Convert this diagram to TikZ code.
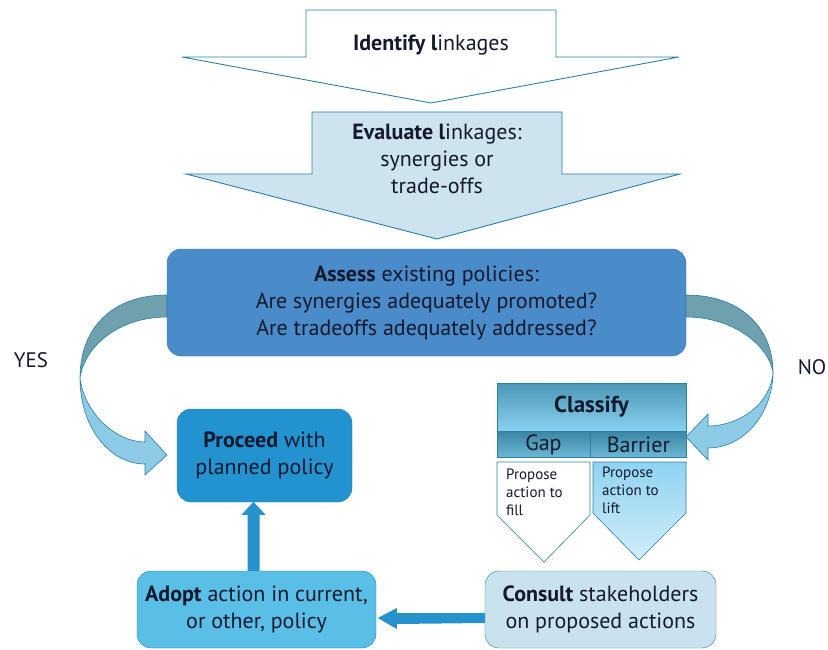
\documentclass[tikz,border=0pt]{standalone}
\usepackage{fontspec}
\setmainfont{PT Sans}
\usetikzlibrary{positioning,calc}

\definecolor{edgeblue}{HTML}{2B7FA7}
\definecolor{inkdark}{HTML}{14192E}
\definecolor{evalfill}{HTML}{CDE3EE}
\definecolor{assessfill}{HTML}{4A8BC9}
\definecolor{proceedfill}{HTML}{2393D0}
\definecolor{adoptfill}{HTML}{5ABFE7}
\definecolor{consultfill}{HTML}{C8E3EE}
\definecolor{bandback}{HTML}{6FA0AE}
\definecolor{bandfront}{HTML}{8DCAE5}
\definecolor{linkblue}{HTML}{2592CC}
\definecolor{headtop}{HTML}{4B97B5}
\definecolor{headbot}{HTML}{88D2EF}
\definecolor{rowtop}{HTML}{3A86A4}
\definecolor{rowbot}{HTML}{6CB9D6}
\definecolor{lifttop}{HTML}{8FD3F0}
\definecolor{liftbot}{HTML}{D2EEFA}

\begin{document}
\begin{tikzpicture}[
    x=1pt, y=-1pt,
    box/.style={
        draw=edgeblue, rounded corners=14pt,
        align=center, text=inkdark, inner sep=0pt,
        font=\fontsize{22}{27}\selectfont
    },
    cell/.style={
        draw=edgeblue, inner sep=0pt, text=inkdark
    },
    bigarrow/.style={draw=edgeblue, line width=0.9pt, line join=miter},
    band/.style={draw=edgeblue, line width=0.6pt},
    small/.style={
        align=left, inner sep=0pt, text=inkdark,
        font=\fontsize{15}{18}\selectfont
    },
    answer/.style={text=inkdark, font=\fontsize{21}{24}\selectfont}
    ]
    \useasboundingbox (0,0) rectangle (828,650);

    % Top arrows
    \draw[bigarrow, fill=white] (306,10) -- (556,10) -- (556,57) -- (679,57)
        -- (431,103) -- (182,57) -- (306,57) -- cycle;
    \node[box, draw=none] (identify) at (431,45) {\textbf{Identify l}inkages};

    \draw[bigarrow, fill=evalfill] (312,112) -- (562,112) -- (562,174) -- (680,174)
        -- (437,239) -- (186,174) -- (312,174) -- cycle;
    \node[box, draw=none] (evaluate) at (437,159)
        {\textbf{Evaluate l}inkages:\\synergies or\\trade-offs};

    % Boxes
    \node[box, fill=assessfill, minimum width=519, minimum height=107] (assess) at (426.5,302.5)
        {\textbf{Assess} existing policies:\\Are synergies adequately promoted?\\Are tradeoffs adequately addressed?};
    \node[box, fill=proceedfill, minimum width=175, minimum height=93] (proceed) at (264.5,455.5)
        {\textbf{Proceed} with\\planned policy};
    \node[box, fill=adoptfill, minimum width=239, minimum height=77] (adopt) at (256.5,609.5)
        {\textbf{Adopt} action in current,\\or other, policy};
    \node[box, fill=consultfill, minimum width=231, minimum height=77] (consult) at (600.5,609.5)
        {\textbf{Consult} stakeholders\\on proposed actions};

    % Classify table
    \node[cell, top color=headtop, bottom color=headbot, minimum width=189, minimum height=48,
        font=\fontsize{23}{26}\selectfont\bfseries] (classify) at (591.5,407) {Classify};
    \node[cell, top color=rowtop, bottom color=rowbot, minimum width=93, minimum height=26,
        font=\fontsize{22}{24}\selectfont, below right=0 and 0 of classify.south west] (gap) {Gap};
    \node[cell, top color=rowtop, bottom color=rowbot, minimum width=96, minimum height=26,
        font=\fontsize{22}{24}\selectfont, right=0 of gap] (barrier) {Barrier};

    \draw[edgeblue, line width=0.6pt, fill=white] (497,462) -- (590,462) -- (590,515)
        -- (544,562) -- (497,515) -- cycle;
    \draw[edgeblue, line width=0.6pt, top color=lifttop, bottom color=liftbot]
        (593,462) -- (686,462) -- (686,513) -- (639,560) -- (593,513) -- cycle;
    \node[small, anchor=north west] (fill) at (506,469) {Propose\\action to\\fill};
    \node[small, anchor=north west] (lift) at (602,467) {Propose\\action to\\lift};

    % Curved arrows
    \draw[band, fill=bandback] (167,295) .. controls (110,295) and (80,330) .. (80,378)
        .. controls (85,345) and (120,317) .. (167,317) -- cycle;
    \draw[band, fill=bandfront] (80,378) .. controls (80,428) and (110,464) .. (145,464)
        -- (145,475) -- (167,455) -- (145,431) -- (145,442)
        .. controls (115,442) and (84,412) .. (80,378) -- cycle;

    \draw[band, fill=bandback] (686,295) .. controls (743,295) and (773,330) .. (773,372)
        .. controls (768,345) and (733,317) .. (686,317) -- cycle;
    \draw[band, fill=bandfront] (773,372) .. controls (773,412) and (745,448) .. (708,448)
        -- (708,460) -- (686,437) -- (708,414) -- (708,426)
        .. controls (738,426) and (771,405) .. (773,372) -- cycle;

    \node[answer] (yes) at (31,360) {YES};
    \node[answer] (no) at (812,367) {NO};

    % Straight arrows
    \fill[linkblue] ($(consult.west)+(0,3.5)$) -- ++(-88,0) -- ++(0,-5) -- ++(-19,10)
        -- ++(19,11) -- ++(0,-5) -- ($(consult.west)+(0,13.5)$) -- cycle;
    \fill[linkblue] ($(adopt.north)+(3,0)$) -- ++(0,-56) -- ++(6,0) -- ++(-12,-13)
        -- ++(-12,13) -- ++(6,0) -- ($(adopt.north)+(-9,0)$) -- cycle;
\end{tikzpicture}
\end{document}
